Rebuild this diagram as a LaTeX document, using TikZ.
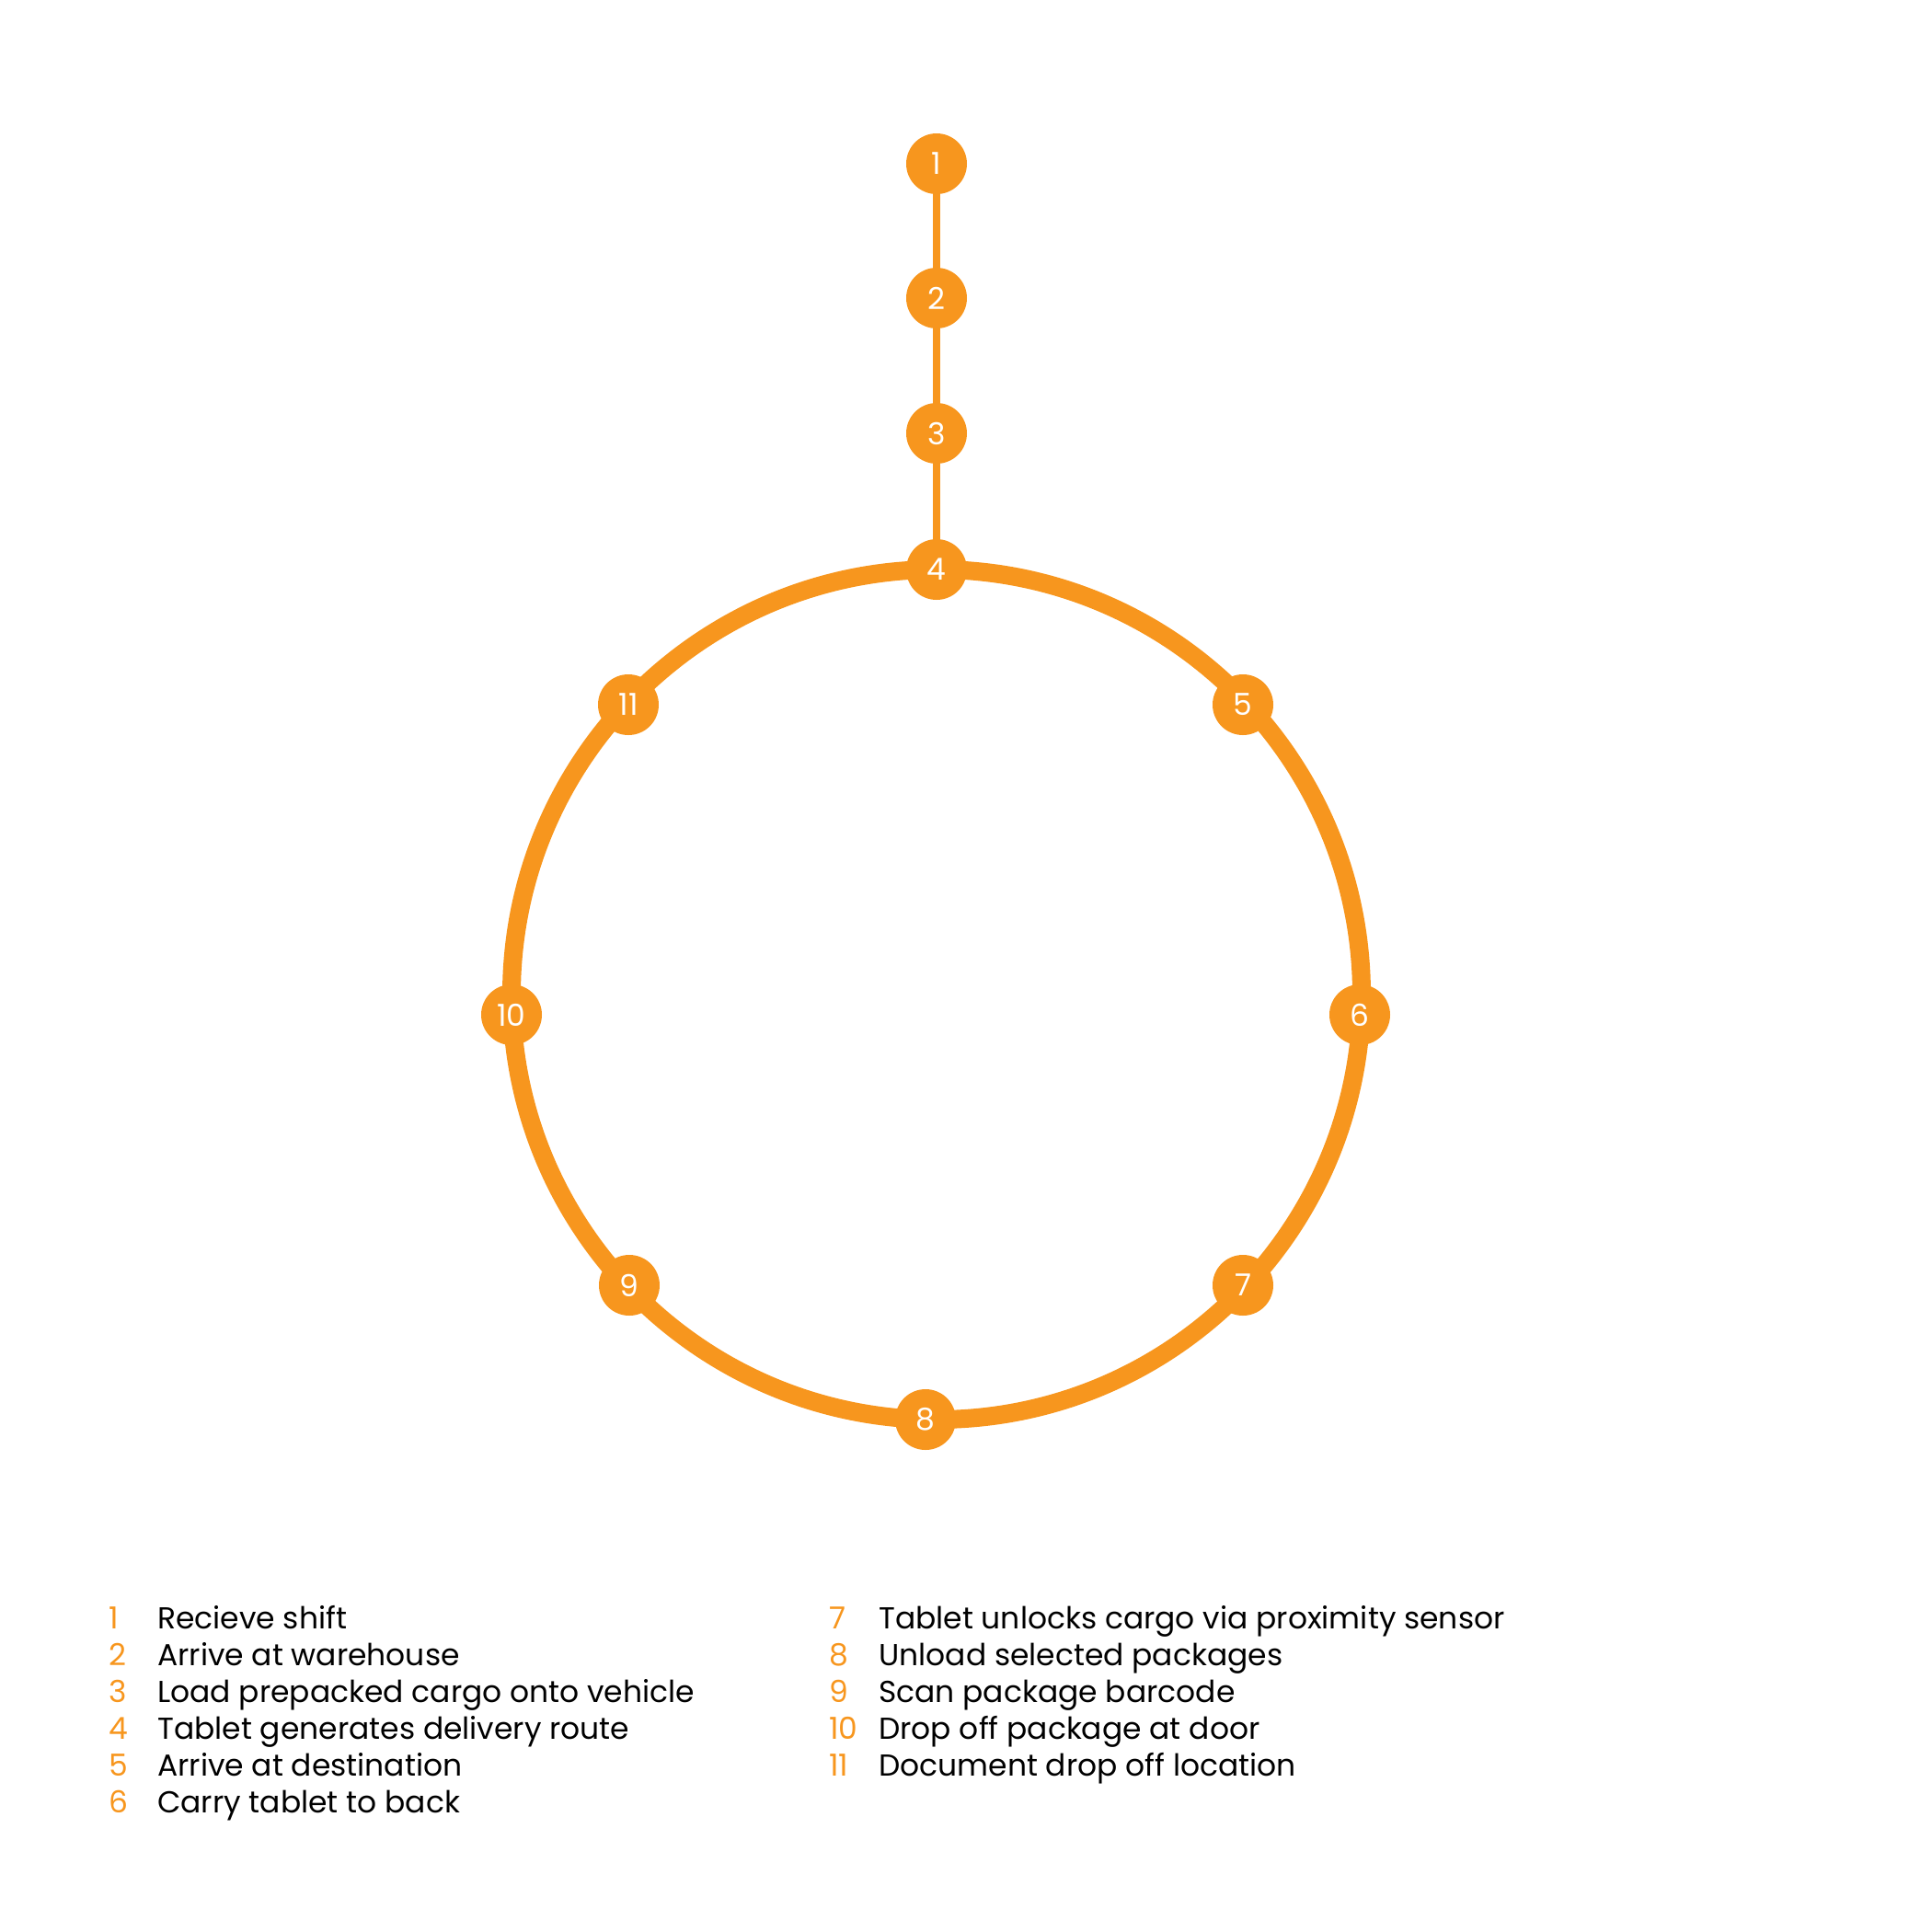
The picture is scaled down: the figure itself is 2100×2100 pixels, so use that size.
\documentclass[tikz,border=0pt]{standalone}
\usepackage{fontspec}
\setmainfont{Poppins}
\usetikzlibrary{backgrounds}

\definecolor{routeorange}{RGB}{247,150,30}

\tikzset{
  stopdot/.style={circle,fill=routeorange,text=white,minimum size=49.5pt,inner sep=0pt,font=\fontsize{24.7}{28}\selectfont},
  spine/.style={draw=routeorange,line width=5.5pt},
  ring/.style={draw=routeorange,line width=15pt},
  stepnum/.style={anchor=base west,inner sep=0pt,text=routeorange,font=\fontsize{24.7}{28}\selectfont},
  steptext/.style={anchor=base west,inner sep=0pt,text=black,font=\fontsize{24.7}{28}\selectfont}
}

\begin{document}
\begin{tikzpicture}[x=0.75pt,y=0.75pt,yscale=-1,xscale=1]
\useasboundingbox (0,0) rectangle (2100,2100);

% Ring centre
\coordinate (hub) at (1018,1081);

% Stops on the spine
\node [stopdot] (s1) at (1018,178) {1};
\node [stopdot] (s2) at (1018,324) {2};
\node [stopdot] (s3) at (1018,471) {3};
% Stops on the ring
\node [stopdot] (s4) at (1018,619) {4};
\node [stopdot] (s5) at (1351,766) {5};
\node [stopdot] (s6) at (1478,1103) {6};
\node [stopdot] (s7) at (1351,1397) {7};
\node [stopdot] (s8) at (1006,1543) {8};
\node [stopdot] (s9) at (684,1397) {9};
\node [stopdot] (s10) at (556,1103) {10};
\node [stopdot] (s11) at (683,766) {11};

\begin{scope}[on background layer]
%Straight Lines
\draw [spine] (s1) -- (s2);
\draw [spine] (s2) -- (s3);
\draw [spine] (s3) -- (s4);
%Shape: Circle
\draw [ring] (hub) circle [radius=462];
\end{scope}

% Legend, left column
\node [stepnum] (n1) at (118,1770) {1};
\node [steptext] (t1) at (171,1770) {Recieve shift};
\node [stepnum] (n2) at (118,1810) {2};
\node [steptext] (t2) at (171,1810) {Arrive at warehouse};
\node [stepnum] (n3) at (118,1850) {3};
\node [steptext] (t3) at (171,1850) {Load prepacked cargo onto vehicle};
\node [stepnum] (n4) at (118,1890) {4};
\node [steptext] (t4) at (171,1890) {Tablet generates delivery route};
\node [stepnum] (n5) at (118,1930) {5};
\node [steptext] (t5) at (171,1930) {Arrive at destination};
\node [stepnum] (n6) at (118,1970) {6};
\node [steptext] (t6) at (171,1970) {Carry tablet to back};

% Legend, right column
\node [stepnum] (n7) at (901,1770) {7};
\node [steptext] (t7) at (955,1770) {Tablet unlocks cargo via proximity sensor};
\node [stepnum] (n8) at (901,1810) {8};
\node [steptext] (t8) at (955,1810) {Unload selected packages};
\node [stepnum] (n9) at (901,1850) {9};
\node [steptext] (t9) at (955,1850) {Scan package barcode};
\node [stepnum] (n10) at (901,1890) {10};
\node [steptext] (t10) at (955,1890) {Drop off package at door};
\node [stepnum] (n11) at (901,1930) {11};
\node [steptext] (t11) at (955,1930) {Document drop off location};

\end{tikzpicture}
\end{document}
